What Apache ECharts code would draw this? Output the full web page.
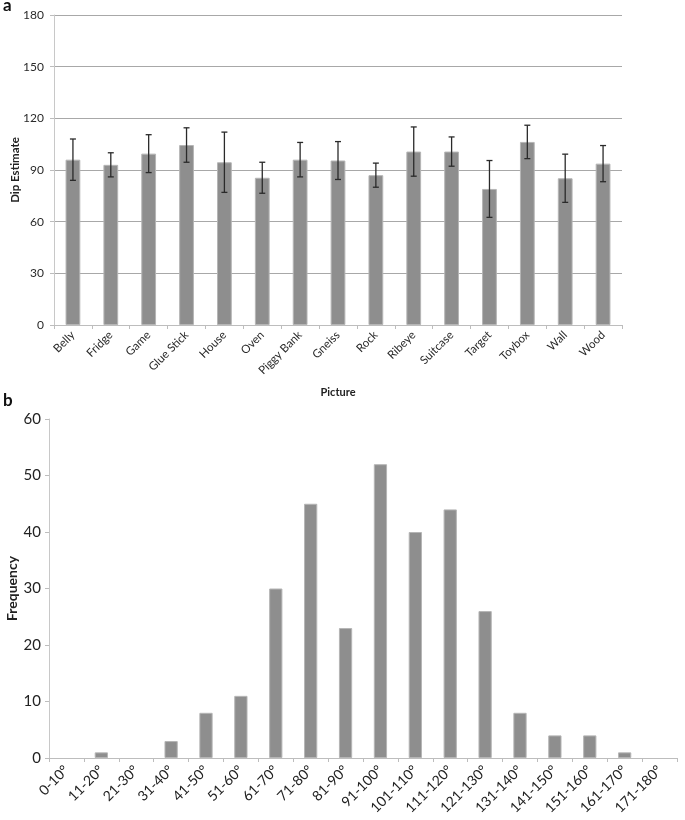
<!DOCTYPE html>
<html><head><meta charset="utf-8">
<script src="https://cdn.jsdelivr.net/npm/echarts@6/dist/echarts.min.js"></script>
<style>html,body{margin:0;padding:0;background:#fff}#c{width:685px;height:820px}</style>
</head><body><div id="c"></div>
<script>
const pictures = ['Belly','Fridge','Game','Glue Stick','House','Oven','Piggy Bank','Gneiss','Rock','Ribeye','Suitcase','Target','Toybox','Wall','Wood'];
const dipMeans = [96, 93, 99.5, 104.5, 94.5, 85.5, 96, 95.5, 87, 100.7, 100.7, 79, 106.3, 85.2, 93.7];
const dipErrors = [12, 7, 11, 10, 17.5, 9, 10, 11, 7, 14.3, 8.5, 16.5, 9.7, 14, 10.5];
const yTicksTop = [0, 30, 60, 90, 120, 150, 180];

const bins = ['0-10°','11-20°','21-30°','31-40°','41-50°','51-60°','61-70°','71-80°','81-90°','91-100°','101-110°','111-120°','121-130°','131-140°','141-150°','151-160°','161-170°','171-180°'];
const freq = [0, 1, 0, 3, 8, 11, 30, 45, 23, 52, 40, 44, 26, 8, 4, 4, 1, 0];
const yTicksBottom = [0, 10, 20, 30, 40, 50, 60];

const FONT = 'Lato, Open Sans, sans-serif';
const barStyle = { color: '#8e8e8e', borderColor: '#b5b5b5', borderWidth: 1 };
const errData = dipMeans.map((m, i) => [i, m - dipErrors[i], m + dipErrors[i]]);
const freqData = freq.map(v => v === 0 ? { value: v, itemStyle: { borderWidth: 0 } } : v);

const chart = echarts.init(document.getElementById('c'), null, { renderer: 'canvas' });
chart.setOption({
  animation: false,
  backgroundColor: '#fff',
  textStyle: { fontFamily: FONT },
  graphic: [
    { type: 'text', left: 3, top: -3, style: { text: 'a', font: 'bold 17px ' + FONT, fill: '#111' } },
    { type: 'text', left: 3, top: 392, style: { text: 'b', font: 'bold 17px ' + FONT, fill: '#111' } }
  ],
  grid: [
    { left: 54, right: 63, top: 15, height: 310, outerBoundsMode: 'none', containLabel: false },
    { left: 49, right: 8, top: 419, height: 339, outerBoundsMode: 'none', containLabel: false }
  ],
  xAxis: [
    {
      type: 'category', gridIndex: 0, data: pictures,
      name: 'Picture', nameLocation: 'middle', nameGap: 62, nameMoveOverlap: false,
      nameTextStyle: { fontWeight: 'bold', fontSize: 11, color: '#222', fontFamily: FONT },
      axisLine: { lineStyle: { color: '#bdbdbd', width: 1 } },
      axisTick: { show: true, alignWithLabel: false, length: 4, lineStyle: { color: '#bdbdbd' } },
      axisLabel: { rotate: 45, fontSize: 11.5, color: '#2a2a2a', margin: 8, interval: 0, fontFamily: FONT }
    },
    {
      type: 'category', gridIndex: 1, data: bins,
      axisLine: { lineStyle: { color: '#bdbdbd', width: 1 } },
      axisTick: { show: true, alignWithLabel: false, length: 4, lineStyle: { color: '#bdbdbd' } },
      axisLabel: { rotate: 45, fontSize: 14, color: '#222', margin: 10, interval: 0, fontFamily: FONT }
    }
  ],
  yAxis: [
    {
      type: 'value', gridIndex: 0, min: yTicksTop[0], max: yTicksTop[yTicksTop.length - 1], interval: 30,
      name: 'Dip Estimate', nameLocation: 'middle', nameGap: 33, nameRotate: 90, nameMoveOverlap: false,
      nameTextStyle: { fontWeight: 'bold', fontSize: 11.5, color: '#222', fontFamily: FONT },
      axisLine: { show: true, lineStyle: { color: '#c8c8c8' } },
      axisTick: { show: true, length: 4, lineStyle: { color: '#bdbdbd' } },
      axisLabel: { fontSize: 12, color: '#2a2a2a', margin: 10, fontFamily: FONT },
      splitLine: { show: true, lineStyle: { color: '#a8a8a8', width: 1 } }
    },
    {
      type: 'value', gridIndex: 1, min: yTicksBottom[0], max: yTicksBottom[yTicksBottom.length - 1], interval: 10,
      name: 'Frequency', nameLocation: 'middle', nameGap: 30, nameRotate: 90, nameMoveOverlap: false,
      nameTextStyle: { fontWeight: 'bold', fontSize: 14, color: '#222', fontFamily: FONT },
      axisLine: { show: true, lineStyle: { color: '#c8c8c8' } },
      axisTick: { show: true, length: 4, lineStyle: { color: '#bdbdbd' } },
      axisLabel: { fontSize: 15, color: '#222', margin: 8, fontFamily: FONT },
      splitLine: { show: false }
    }
  ],
  series: [
    { type: 'bar', xAxisIndex: 0, yAxisIndex: 0, data: dipMeans, barWidth: '39%', itemStyle: barStyle },
    {
      type: 'custom', xAxisIndex: 0, yAxisIndex: 0, data: errData, z: 5,
      renderItem: function (params, api) {
        const x = api.value(0);
        const lo = api.coord([x, api.value(1)]);
        const hi = api.coord([x, api.value(2)]);
        const hw = 3;
        const st = { stroke: '#2a2a2a', lineWidth: 1.3 };
        return { type: 'group', children: [
          { type: 'line', shape: { x1: lo[0], y1: lo[1], x2: hi[0], y2: hi[1] }, style: st },
          { type: 'line', shape: { x1: hi[0] - hw, y1: hi[1], x2: hi[0] + hw, y2: hi[1] }, style: st },
          { type: 'line', shape: { x1: lo[0] - hw, y1: lo[1], x2: lo[0] + hw, y2: lo[1] }, style: st }
        ]};
      }
    },
    { type: 'bar', xAxisIndex: 1, yAxisIndex: 1, data: freqData, barWidth: '38%', itemStyle: barStyle }
  ]
});
</script></body></html>
